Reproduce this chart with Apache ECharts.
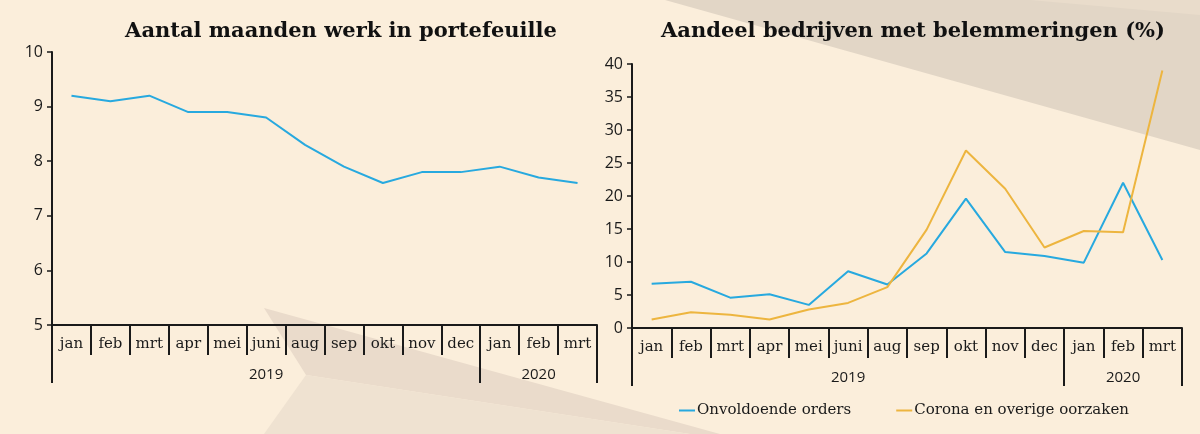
<!DOCTYPE html>
<html>
<head>
<meta charset="utf-8">
<script src="https://cdn.jsdelivr.net/npm/echarts@6/dist/echarts.min.js"></script>
<style>
  html, body { margin: 0; padding: 0; background: #FBEEDB; }
  #chart { width: 1200px; height: 434px; }
</style>
</head>
<body>
<div id="chart"></div>
<script>
// ---- data ----
const months = ['jan','feb','mrt','apr','mei','juni','aug','sep','okt','nov','dec','jan','feb','mrt'];
const yearLabels = ['2019','2020'];
const yearSpans = [11, 3];
const maandenWerk = [9.2, 9.1, 9.2, 8.9, 8.9, 8.8, 8.3, 7.9, 7.6, 7.8, 7.8, 7.9, 7.7, 7.6];
const onvoldoendeOrders = [6.7, 7.0, 4.6, 5.1, 3.5, 8.6, 6.6, 11.3, 19.6, 11.5, 10.9, 9.9, 22.0, 10.3];
const coronaOverig = [1.3, 2.4, 2.0, 1.3, 2.8, 3.8, 6.2, 14.9, 26.9, 21.1, 12.2, 14.7, 14.5, 39.0];
const leftTitle = 'Aantal maanden werk in portefeuille';
const rightTitle = 'Aandeel bedrijven met belemmeringen (%)';
const seriesNames = ['Onvoldoende orders', 'Corona en overige oorzaken'];

// derived year-group boundaries and centers
const yearBounds = [0];
yearSpans.forEach(s => yearBounds.push(yearBounds[yearBounds.length - 1] + s));
const yearCenters = yearSpans.map((s, i) => yearBounds[i] + s / 2);

const BLUE = '#27A9DF';
const ORANGE = '#EDB53F';
const INK = '#1a1a1a';
const SERIF = 'DejaVu Serif';
const SANS = 'Open Sans';

function monthAxis(gridIndex) {
  return {
    type: 'category', gridIndex, data: months, boundaryGap: true,
    axisLine: { show: true, lineStyle: { color: INK, width: 2 } },
    axisTick: { show: true, interval: 0, length: 30, lineStyle: { color: INK, width: 2 } },
    axisLabel: { interval: 0, margin: 12, fontFamily: SERIF, fontSize: 15, color: INK },
    splitLine: { show: false }
  };
}
function yearAxis(gridIndex) {
  return {
    type: 'value', gridIndex, position: 'bottom', min: 0, max: months.length,
    axisLine: { show: false },
    axisTick: { show: true, customValues: yearBounds, length: 58, lineStyle: { color: INK, width: 2 } },
    axisLabel: { customValues: yearCenters, margin: 42, fontFamily: SANS, fontSize: 15, color: INK,
      formatter: v => { const i = yearCenters.indexOf(v); return i >= 0 ? yearLabels[i] : ''; } },
    splitLine: { show: false }
  };
}
function valAxis(gridIndex, min, max, interval) {
  return {
    type: 'value', gridIndex, min, max, interval,
    axisLine: { show: true, lineStyle: { color: INK, width: 2 } },
    axisTick: { show: true, length: 5, lineStyle: { color: INK, width: 1.5 } },
    axisLabel: { margin: 9, fontFamily: SANS, fontSize: 16, color: INK },
    splitLine: { show: false }
  };
}

const chart = echarts.init(document.getElementById('chart'), null, { renderer: 'canvas' });
chart.setOption({
  backgroundColor: '#FBEEDB',
  animation: false,
  graphic: { elements: [
    { type: 'polygon', silent: true, z: -10, shape: { points: [[665,0],[1200,0],[1200,150]] }, style: { fill: '#E2D6C6' } },
    { type: 'polygon', silent: true, z: -9, shape: { points: [[1030,0],[1200,0],[1200,15]] }, style: { fill: '#E9DCCB' } },
    { type: 'polygon', silent: true, z: -10, shape: { points: [[264,308],[720,434],[690,434],[306,375]] }, style: { fill: '#EADBCB' } },
    { type: 'polygon', silent: true, z: -10, shape: { points: [[306,375],[690,434],[264,434]] }, style: { fill: '#EFE2D1' } }
  ]},
  title: [
    { text: leftTitle, left: 336, top: 16, textAlign: 'center',
      textStyle: { fontFamily: SERIF, fontSize: 21, fontWeight: 'bold', color: '#111' } },
    { text: rightTitle, left: 908, top: 16, textAlign: 'center',
      textStyle: { fontFamily: SERIF, fontSize: 21, fontWeight: 'bold', color: '#111' } }
  ],
  legend: {
    left: 674, top: 398, itemGap: 45, itemWidth: 16, itemHeight: 2, icon: 'rect',
    data: seriesNames,
    textStyle: { fontFamily: SERIF, fontSize: 15, color: INK, padding: [0, 0, 0, -3] }
  },
  grid: [
    { left: 52, right: 603, top: 52, bottom: 109 },
    { left: 632, right: 18, top: 64, bottom: 106 }
  ],
  xAxis: [monthAxis(0), yearAxis(0), monthAxis(1), yearAxis(1)],
  yAxis: [valAxis(0, 5, 10, 1), valAxis(1, 0, 40, 5)],
  series: [
    { name: 'Maanden werk', type: 'line', xAxisIndex: 0, yAxisIndex: 0, data: maandenWerk,
      symbol: 'none', lineStyle: { color: BLUE, width: 2 }, itemStyle: { color: BLUE } },
    { name: seriesNames[0], type: 'line', xAxisIndex: 2, yAxisIndex: 1, data: onvoldoendeOrders,
      symbol: 'none', lineStyle: { color: BLUE, width: 2 }, itemStyle: { color: BLUE } },
    { name: seriesNames[1], type: 'line', xAxisIndex: 2, yAxisIndex: 1, data: coronaOverig,
      symbol: 'none', lineStyle: { color: ORANGE, width: 2 }, itemStyle: { color: ORANGE } }
  ]
});
</script>
</body>
</html>
